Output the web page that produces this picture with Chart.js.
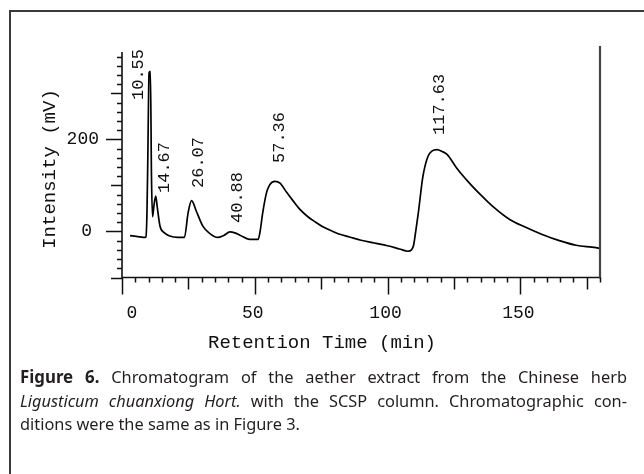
<!DOCTYPE html>
<html>
<head>
<meta charset="utf-8">
<script src="https://cdn.jsdelivr.net/npm/chart.js@4.4.1/dist/chart.umd.min.js"></script>
<style>
  html, body { margin: 0; padding: 0; background: #fff; }
  body { width: 644px; height: 474px; position: relative; overflow: hidden; }
  #frame { position: absolute; left: 9px; top: 10px; width: 700px; height: 500px;
           border-left: 2px solid #3a3a3a; border-top: 2px solid #3a3a3a; }
  canvas { position: absolute; left: 0; top: 0; }
  #cap { position: absolute; left: 20px; top: 365px; width: 607px;
         font-family: "Noto Sans", "Open Sans", sans-serif;
         font-size: 16.5px; line-height: 23.5px; color: #231f20;
         transform-origin: left top; }
  #cap .j { text-align: justify; text-align-last: justify; }
  #cap div { white-space: nowrap; }
  #cap b { font-size: 17px; }
</style>
</head>
<body>
<div id="frame"></div>
<canvas id="c" width="644" height="474"></canvas>
<div id="cap">
  <div class="j"><b>Figure 6.</b> Chromatogram of the aether extract from the Chinese herb</div>
  <div class="j"><i>Ligusticum chuanxiong Hort.</i> with the SCSP column. Chromatographic con-</div>
  <div><span id="l3">ditions were the same as in Figure 3.</span></div>
</div>
<script>
// ---- data ----
const retentionTime = [3, 6, 8.6, 9.0, 9.4, 9.7, 10.2, 10.7, 11.1, 11.5, 12.0, 12.7, 13.3, 14.3, 16, 18,
  21, 23.5, 24.9, 26.2, 28, 30.5, 33, 36, 38.5, 40.6, 42.5, 44.4, 48, 51.3, 52, 53, 54.5, 55.5, 56.5, 57.7,
  59.5, 62, 64.5, 67, 70, 73, 76, 79.4, 82, 85.7, 90, 95, 100, 104.5, 107.7, 109, 109.8, 110.7, 111.6,
  113.3, 115.2, 116.8, 118.6, 120.5, 122.5, 126, 131, 135, 139.5, 146, 152, 158, 164.7, 171, 178.5, 180];
const intensity = [-9, -11, -13, -12, 40, 150, 345, 348, 120, 32, 55, 77, 52, 12, -3, -10,
  -13, -13, 41, 67, 44, 11, -4, -13, -8, -1, -3, -8, -17, -17, 0, 41, 86, 100, 107, 109,
  105, 85, 66, 48, 32, 20, 9, 0, -6, -12, -19, -25, -31, -38, -43, -40, -30, 4, 41,
  119, 163, 175, 178, 174, 167, 138, 104, 80, 55, 26, 9, -6, -20, -30, -35, -37];
const peakLabels = ['10.55', '14.67', '26.07', '40.88', '57.36', '117.63'];
const peakTimes = [10.55, 14.67, 26.07, 40.88, 57.36, 117.63];
const xTickLabels = [0, 50, 100, 150];
const yTickLabels = [0, 200];
const xTitle = 'Retention Time (min)';
const yTitle = 'Intensity (mV)';

// label layout (pixel offsets from the peak time position / absolute bottom)
const labelLayout = [[-12, 100], [4, 193], [7, 188], [7, 223], [5, 163], [5, 135]];

const points = retentionTime.map((t, i) => ({ x: t, y: intensity[i] }));
const MONO = '"Liberation Mono", "DejaVu Sans Mono", monospace';

function fitCaption() {
  const cap = document.getElementById('cap');
  cap.style.transform = 'none';
  cap.style.width = '607px';
  const w = document.getElementById('l3').getBoundingClientRect().width;
  const s = 280 / w;
  cap.style.width = (607 / s) + 'px';
  cap.style.transform = 'scaleX(' + s + ')';
}
fitCaption();
if (document.fonts && document.fonts.ready) document.fonts.ready.then(fitCaption);

const axesPlugin = {
  id: 'axesPlugin',
  afterDraw(chart) {
    const { ctx, scales: { x, y } } = chart;
    const x0 = x.getPixelForValue(0), x1 = x.getPixelForValue(180);
    const yb = y.getPixelForValue(-100), yt = y.getPixelForValue(390);
    ctx.save();
    ctx.strokeStyle = '#111';
    ctx.lineWidth = 1.6;
    ctx.beginPath();
    ctx.moveTo(x0, yt); ctx.lineTo(x0, yb); ctx.lineTo(x1, yb);
    ctx.stroke();
    ctx.strokeStyle = '#444';
    ctx.lineWidth = 2.2;
    ctx.beginPath();
    ctx.moveTo(x1, y.getPixelForValue(403)); ctx.lineTo(x1, yb + 1);
    ctx.stroke();
    ctx.strokeStyle = '#111';
    ctx.lineWidth = 1.5;
    ctx.beginPath();
    for (let v = 0; v <= 180; v += 5) {
      const px = Math.round(x.getPixelForValue(v)) + 0.5;
      const len = v % 50 === 0 ? 17 : (v % 25 === 0 ? 12 : 5);
      ctx.moveTo(px, yb); ctx.lineTo(px, yb + len);
    }
    for (let v = -100; v <= 380; v += 20) {
      const py = Math.round(y.getPixelForValue(v)) + 0.5;
      const len = v % 200 === 0 ? 16 : (v % 100 === 0 ? 11 : 5);
      ctx.moveTo(x0, py); ctx.lineTo(x0 - len, py);
    }
    ctx.stroke();
    ctx.fillStyle = '#111';
    ctx.font = '18px ' + MONO;
    ctx.textBaseline = 'middle';
    ctx.textAlign = 'center';
    xTickLabels.forEach(v => {
      const px = x.getPixelForValue(v) + (v === 0 ? 10 : -2);
      ctx.fillText(String(v), px, yb + 36);
    });
    ctx.textAlign = 'right';
    yTickLabels.forEach(v => {
      ctx.fillText(String(v), v === 0 ? 92 : 99, y.getPixelForValue(v));
    });
    ctx.font = '19px ' + MONO;
    ctx.textAlign = 'center';
    ctx.fillText(xTitle, 322, 343);
    ctx.save();
    ctx.translate(50, 169);
    ctx.rotate(-Math.PI / 2);
    ctx.fillText(yTitle, 0, 0);
    ctx.restore();
    ctx.font = '17px ' + MONO;
    ctx.textAlign = 'left';
    peakLabels.forEach((txt, i) => {
      const [dx, bottom] = labelLayout[i];
      const px = x.getPixelForValue(peakTimes[i]) + dx;
      ctx.save();
      ctx.translate(px, bottom);
      ctx.rotate(-Math.PI / 2);
      ctx.fillText(txt, 0, 0);
      ctx.restore();
    });
    ctx.restore();
  }
};

new Chart(document.getElementById('c'), {
  type: 'line',
  data: {
    datasets: [{
      data: points,
      borderColor: '#000',
      borderWidth: 1.7,
      pointRadius: 0,
      cubicInterpolationMode: 'monotone',
      fill: false
    }]
  },
  options: {
    responsive: false,
    animation: false,
    devicePixelRatio: 1,
    layout: { padding: { left: 122, right: 44, top: 52, bottom: 196.5 } },
    plugins: { legend: { display: false }, tooltip: { enabled: false } },
    scales: {
      x: { type: 'linear', min: 0, max: 180, display: false },
      y: { type: 'linear', min: -100, max: 390, display: false }
    }
  },
  plugins: [axesPlugin]
});
</script>
</body>
</html>
